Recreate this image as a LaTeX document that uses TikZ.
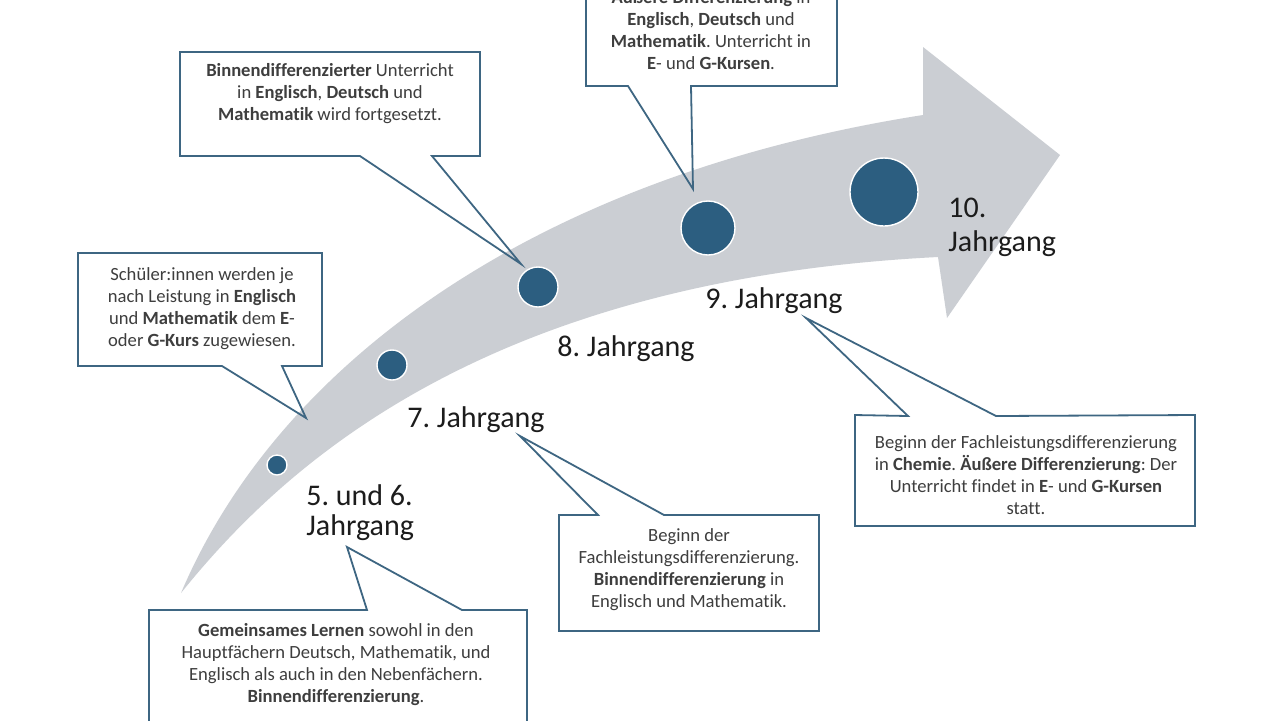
\documentclass[tikz,border=0pt]{standalone}
\usepackage{fontspec}
\setmainfont{Carlito}[Ligatures={NoCommon}]
\frenchspacing
\definecolor{arrowgray}{RGB}{203,206,211}
\definecolor{dotblue}{RGB}{44,94,128}
\definecolor{cbord}{RGB}{62,102,130}
\definecolor{txtgray}{RGB}{62,62,62}
\definecolor{lblcol}{RGB}{28,28,28}
\begin{document}
\begin{tikzpicture}[x=0.5pt,y=-0.5pt,
  box/.style={rectangle, fill=white, draw=none, inner sep=0pt, outer sep=0pt},
  callout/.style={draw=cbord, line width=0.9pt, line join=miter},
  btxt/.style={align=center, text=txtgray, font=\fontsize{9.3}{11}\selectfont, inner sep=0pt},
  lbl/.style={text=lblcol, font=\fontsize{15}{17}\selectfont, inner sep=0pt, align=left},
  dot/.style={circle, fill=dotblue, draw=white, line width=0.7pt, inner sep=0pt}]
\useasboundingbox (0,0) rectangle (1280,720);
\clip (0,0) rectangle (1280,720);
\fill[white] (0,0) rectangle (1280,720);

% big curved arrow
\fill[arrowgray] (181,593) .. controls (280,360) and (540,175) .. (923,115)
  -- (923,47) -- (1060,155) -- (947,318) -- (938,257)
  .. controls (480,280) and (280,470) .. (181,593) -- cycle;

% dots
\node[dot, minimum size=10pt] (c1) at (277,465) {};
\node[dot, minimum size=15pt] (c2) at (392,365) {};
\node[dot, minimum size=20pt] (c3) at (538,287) {};
\node[dot, minimum size=27pt] (c4) at (708,228) {};
\node[dot, minimum size=34pt] (c5) at (884,192) {};

% callout boxes
\node[box, minimum width=125.5pt, minimum height=63pt] (b1) at (711.5,23) {};
\node[box, minimum width=150pt, minimum height=52pt] (b2) at (330,104) {};
\node[box, minimum width=122pt, minimum height=56.5pt] (b3) at (200,309.5) {};
\node[box, minimum width=189pt, minimum height=75pt] (b4) at (338,685) {};
\node[box, minimum width=130pt, minimum height=58pt] (b5) at (689,573) {};
\node[box, minimum width=170pt, minimum height=55.5pt] (b6) at (1025,470.5) {};

% pointer coordinates
\coordinate (p1a) at (628,86);  \coordinate (p1b) at (691,86);  \coordinate (tip1) at (693,189);
\coordinate (p2a) at (360,156); \coordinate (p2b) at (432,156); \coordinate (tip2) at (521,264);
\coordinate (p3a) at (222,366); \coordinate (p3b) at (282,366); \coordinate (tip3) at (306,418);
\coordinate (p4a) at (367,610); \coordinate (p4b) at (462,610); \coordinate (tip4) at (347,547);
\coordinate (p5a) at (598,515); \coordinate (p5b) at (664,515); \coordinate (tip5) at (520,436);
\coordinate (p6a) at (908,416); \coordinate (p6b) at (996,416); \coordinate (tip6) at (806,318);

% callout outlines
\draw[callout] (b1.south west) -- (b1.north west) -- (b1.north east) -- (b1.south east)
  -- (p1b) -- (tip1) -- (p1a) -- cycle;
\draw[callout] (b2.south west) -- (b2.north west) -- (b2.north east) -- (b2.south east)
  -- (p2b) -- (tip2) -- (p2a) -- cycle;
\draw[callout] (b3.south west) -- (b3.north west) -- (b3.north east) -- (b3.south east)
  -- (p3b) -- (tip3) -- (p3a) -- cycle;
\draw[callout] (b4.north west) -- (p4a) -- (tip4) -- (p4b) -- (b4.north east)
  -- (b4.south east) -- (b4.south west) -- cycle;
\draw[callout] (b5.north west) -- (p5a) -- (tip5) -- (p5b) -- (b5.north east)
  -- (b5.south east) -- (b5.south west) -- cycle;
\draw[callout] (b6.north west) -- (p6a) -- (tip6) -- (p6b) -- (b6.north east)
  -- (b6.south east) -- (b6.south west) -- cycle;

% callout texts
\node[btxt] (t1) at (711,29) {\textbf{Äußere Differenzierung} in\\\textbf{Englisch}, \textbf{Deutsch} und\\\textbf{Mathematik}. Unterricht in\\\textbf{E}- und \textbf{G-Kursen}.};
\node[btxt] (t2) at (330,94) {\textbf{Binnendifferenzierter} Unterricht\\in \textbf{Englisch}, \textbf{Deutsch} und\\\textbf{Mathematik} wird fortgesetzt.};
\node[btxt] (t3) at (202,309) {Schüler:innen werden je\\nach Leistung in \textbf{Englisch}\\und \textbf{Mathematik} dem \textbf{E}-\\oder \textbf{G-Kurs} zugewiesen.};
\node[btxt] (t4) at (336,665) {\textbf{Gemeinsames Lernen} sowohl in den\\Hauptfächern Deutsch, Mathematik, und\\Englisch als auch in den Nebenfächern.\\\textbf{Binnendifferenzierung}.};
\node[btxt] (t5) at (689,570) {Beginn der\\Fachleistungsdifferenzierung.\\\textbf{Binnendifferenzierung} in\\Englisch und Mathematik.};
\node[btxt] (t6) at (1026,475) {Beginn der Fachleistungsdifferenzierung\\in \textbf{Chemie}. \textbf{Äußere Differenzierung}: Der\\Unterricht findet in \textbf{E}- und \textbf{G-Kursen}\\statt.};

% year labels
\node[lbl, anchor=north west, font=\fontsize{15}{15}\selectfont] (l56) at (306,484) {5. und 6.\\Jahrgang};
\node[lbl, anchor=base west] (l7) at (407,427) {7. Jahrgang};
\node[lbl, anchor=base west] (l8) at (557,356) {8. Jahrgang};
\node[lbl, anchor=base west] (l9) at (705,308) {9. Jahrgang};
\node[lbl, anchor=north west] (l10) at (948,198) {10.\\Jahrgang};
\end{tikzpicture}
\end{document}
